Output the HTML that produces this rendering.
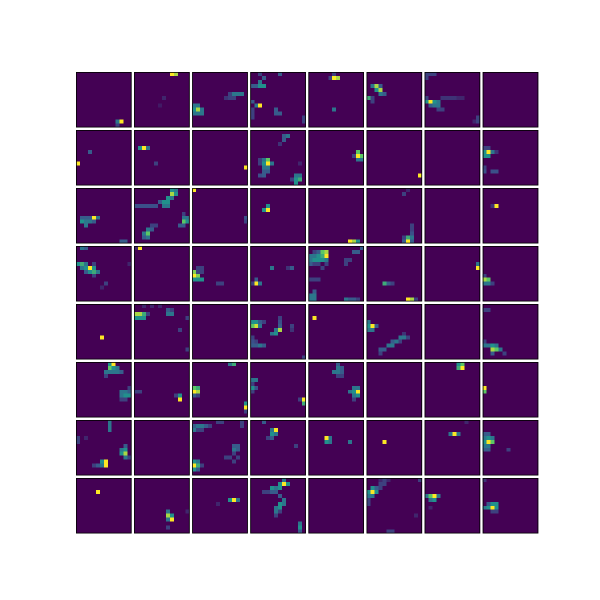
<!DOCTYPE html>
<html><head><meta charset="utf-8"><style>
html,body{margin:0;padding:0;background:#fff;width:600px;height:600px;overflow:hidden}
svg{display:block}
</style></head><body>
<svg id="chart" width="600" height="600" xmlns="http://www.w3.org/2000/svg"></svg>
<script>
// panel spots: each string is "row,col,value;..." for a 14x14 activation map (0..1)
const gridRows = 8;
const gridCols = 8;
const mapSize = 14;
const panelSpots = [
"12,11,1;12,10,.5;13,10,.3",
"0,9,1;0,10,.9;6,7,.2;8,6,.15",
"9,1,.9;8,0,.5;8,1,.5;9,0,.6;10,0,.5;10,1,.5;10,2,.5;9,2,.5;5,9,.3;5,10,.5;5,11,.5;5,12,.5;6,8,.25;6,9,.3;6,10,.3",
"0,2,.3;0,7,.4;3,0,.4;3,1,.4;3,2,.6;2,2,.5;3,3,.6;1,3,.4;8,2,1;7,0,.4;8,1,.5;9,0,.3;10,0,.3;11,0,.3;9,6,.4;10,6,.4;10,7,.4;11,13,.3;12,13,.3",
"1,6,1;1,7,.9;1,5,.3;0,6,.3;9,6,.5",
"3,2,.9;3,1,.5;4,2,.6;4,3,.9;5,3,.5;5,4,.4;6,0,.7;6,1,.3;7,1,.3;3,3,.4",
"0,0,.3;0,1,.3;0,2,.3;1,0,.3;7,1,1;7,0,.6;7,2,.6;7,3,.5;8,1,.4;8,2,.5;8,3,.5;9,3,.3;9,4,.3;6,0,.3;6,4,.25;6,5,.25;6,6,.25;6,7,.25;6,8,.2;6,9,.2;11,13,.3;12,12,.2;12,13,.3",
"",
"8,0,1;5,3,.4",
"4,2,1;4,1,.6;4,3,.5;8,5,.3",
"9,13,1",
"8,4,1;7,4,.8;8,3,.6;7,3,.5;9,3,.5;8,5,.5;9,4,.5;10,3,.4;10,4,.4;11,2,.35;11,3,.4;7,2,.3;8,2,.3;1,8,.4;1,9,.5;2,8,.4;3,7,.25;11,11,.5;11,12,.5;12,11,.6;12,12,.7;13,11,.6;12,10,.3;8,12,.2",
"6,12,1;6,13,.8;5,12,.8;7,12,.5;7,13,.5;6,11,.3",
"11,13,1",
"",
"5,1,1;5,0,.6;5,2,.5;6,0,.6;6,1,.6;4,0,.3;4,1,.3;5,3,.25;9,0,.3;10,0,.35;10,2,.35;10,3,.35",
"7,4,1;7,1,.4;7,2,.4;7,3,.4;8,1,.6;8,2,.5;8,3,.5;8,4,.4;7,5,.5;9,2,.5;13,11,.4;13,12,.4",
"4,0,.35;4,1,.35;4,2,.35;4,3,.35;4,4,.35;4,5,.35;1,9,.9;0,9,.6;0,10,.5;1,10,.6;2,8,.6;2,9,.5;3,7,.6;3,8,.6;4,7,.5;4,8,.5;3,6,.4;11,3,.8;10,3,.5;11,2,.5;10,4,.4;9,4,.3;9,5,.3;12,2,.4;12,3,.5;7,12,.5;7,13,.5;8,12,.8;8,13,.6;9,11,.4;9,12,.4;6,12,.3",
"0,0,1;7,13,.35;8,13,.3",
"5,4,1;5,3,.6;4,4,.6",
"13,10,1;13,11,.9;13,12,.6",
"13,10,1;12,10,.7;12,11,.5;13,9,.4;13,11,.4;11,11,.35;10,11,.3;9,11,.3;12,9,.3;1,9,.3;0,10,.2",
"",
"4,3,1;4,2,.25",
"0,1,.5;0,2,.4;4,0,.6;4,1,.7;4,2,.5;5,1,.5;5,2,.6;5,3,1;5,4,.6;6,2,.4;6,3,.6;6,4,.7;6,5,.5;7,4,.3;4,4,.3;9,7,.3;10,6,.2;4,13,.2",
"0,1,1;0,0,.2",
"6,0,.85;7,0,1;7,1,.85;8,0,.6;8,1,.6;8,2,.6;6,1,.3;5,1,.3;5,2,.3;6,2,.3;9,6,.3;9,7,.3",
"5,5,.5;5,9,.25;5,10,.4;8,1,.4;9,1,1;9,0,.3;9,2,.5",
"1,3,.8;1,4,.9;2,4,1;2,3,.7;2,2,.6;2,1,.5;3,0,.5;3,1,.6;3,2,.6;3,3,.6;3,4,.5;4,1,.3;4,2,.3;1,1,.3;1,2,.4;2,0,.5;4,0,.4;4,4,.3;5,3,.3;1,11,.4;1,12,.4;0,13,.4;3,9,.3;4,9,.3;3,10,.3;8,0,.3;8,1,.3;8,2,.3;11,1,.4;12,0,.5;12,1,.5;13,0,.5;13,1,.5;13,9,.5;13,10,.4;13,11,.4;13,12,.3",
"9,4,.7;9,5,.4;9,6,.3;13,10,1;13,11,.9;13,12,.3",
"4,13,.5;5,13,1",
"8,0,.9;8,1,.8;9,0,.5;9,1,.5;7,0,.3;9,2,.3",
"8,6,1",
"2,0,.9;2,1,.9;2,2,.7;3,0,.6;3,1,.6;3,2,.6;2,3,.3;2,8,.5;2,9,.5;1,8,.4;1,9,.3;0,2,.2;0,4,.2;0,6,.2;3,13,.3;6,11,.3;11,13,.3",
"",
"4,0,.6;4,1,.6;4,2,.4;4,3,.3;5,0,.8;5,1,.95;5,2,.5;3,7,.3;4,7,.35;5,7,.4;6,6,.5;6,7,.9;7,5,.5;7,6,.6;5,10,.3;6,10,.25;8,0,.3;9,0,.35;9,1,.3;10,0,.4;10,1,.4;10,2,.5;10,3,.4;13,13,.3",
"3,1,1",
"4,0,.5;5,1,1;5,0,.6;6,0,.5;6,1,.5;5,2,.4;8,8,.5;8,9,.5;9,6,.4;9,7,.5;10,5,.5;10,6,.5;11,4,.4;11,3,.4;12,3,.3;9,8,.3;8,10,.3;7,9,.25",
"",
"1,0,.3;1,1,.3;9,0,.3;10,0,.5;10,1,.5;10,2,.6;10,3,.5;11,2,.9;11,3,.8;11,4,.5;12,2,.4;12,5,.3",
"0,8,.6;0,9,1;1,8,.8;1,9,.6;2,7,.5;2,8,.5;2,9,.5;2,10,.5;2,11,.4;3,7,.3;1,10,.5;7,11,.5;7,12,.5;8,11,.5;8,12,.6;8,13,.6;7,13,.4;9,12,.3;9,11,.3;6,13,.3",
"7,0,.3;7,1,.3;8,10,.3;8,11,.6;9,11,1",
"0,9,.5;0,10,.7;6,0,.8;6,1,.7;7,0,1;7,1,.9;8,0,.4;8,1,.3;10,13,.6;11,13,1;12,13,.3",
"4,0,.5;4,1,.5;5,0,.3;6,0,.6;6,1,.35;7,0,.3;9,12,.3;9,13,1;10,13,.7",
"0,7,.4;1,7,.5;1,8,.4;2,7,.5;2,6,.5;2,8,.4;3,7,.3;3,8,.3;6,11,.5;6,12,.5;7,12,1;7,11,.6;7,10,.5;8,11,.5;8,12,.6;9,11,.3",
"",
"0,8,.6;0,9,.8;1,8,.7;1,9,1",
"6,0,1;7,0,.8",
"0,8,.5;1,8,.5;2,8,.5;4,0,.3;5,0,.3;4,2,.2;10,6,.6;10,7,1;11,6,.5;11,7,1;11,5,.4;11,4,.3;7,11,.5;7,12,.6;8,11,.6;8,12,.9;9,12,.5;6,12,.4;9,13,.3",
"",
"0,6,.3;0,7,.3;0,12,.3;1,0,.4;1,1,.5;1,2,.5;1,3,.4;1,4,.3;2,0,.5;2,1,.3;2,2,.3;1,12,.3;6,10,.4;6,11,.4;7,10,.5;7,11,.4;8,10,.3;9,9,.3;9,11,.3;10,10,.3;11,0,1;11,1,.7;10,0,.6;10,1,.5;12,0,.6;12,1,.4;11,2,.3;9,8,.3",
"0,3,.4;2,5,.5;2,6,1;3,5,.6;3,6,.5;4,4,.3;4,5,.4;6,11,.3",
"4,4,1;5,4,.6;5,5,.5;4,5,.5;5,10,.5",
"5,4,1",
"0,10,.2;3,6,.5;3,7,1;3,8,.5",
"3,0,.4;3,1,.4;4,0,.5;4,1,.6;4,2,.5;5,0,.6;5,1,1;5,2,.8;6,0,.5;6,1,.5;7,0,.4;7,1,.4;7,6,.3",
"3,5,1",
"8,8,.5;9,8,.9;9,9,.6;10,8,.5;10,9,1;8,13,.2;12,8,.3",
"5,9,.6;5,10,1;5,11,.5;6,6,.2",
"1,7,.6;1,8,1;1,9,.6;0,8,.5;2,5,.6;2,6,.5;2,7,.6;3,3,.3;3,4,.3;3,5,.4;3,6,.4;4,7,.4;5,8,.5;6,7,.6;6,8,.5;7,6,.5;7,7,.6;8,6,.5;8,7,.3;9,6,.3;11,12,.5;12,12,.6;13,12,.4",
"",
"2,1,.6;2,2,.4;2,3,.3;3,0,.6;3,1,1;3,2,.6;4,0,.5;4,1,.5;1,3,.3;1,4,.3;0,3,.2;0,4,.3;0,5,.2;5,0,.3;6,0,.3;9,12,.2;13,5,.3;13,6,.3;0,13,.3",
"4,0,.5;4,1,.8;4,2,1;4,3,.5;5,1,.5;5,2,.6;7,1,.2",
"0,0,.25;6,1,.4;6,2,.6;6,3,.6;7,0,.5;7,1,.6;7,2,1;7,3,.6;8,2,.3;8,3,.3"
];

const NS = "http://www.w3.org/2000/svg";
const svg = document.getElementById('chart');
const gridLeft = 76, gridTop = 72, pitchX = 58.1, pitchY = 58, panelW = 55.6, panelH = 55.5;
const stops = [[0,[68,1,84]],[0.25,[59,82,139]],[0.5,[33,145,140]],[0.75,[94,201,98]],[1,[253,231,37]]];
function viridis(v){
  v = Math.max(0, Math.min(1, v));
  v = Math.pow(v, 1.35);
  for (let i = 1; i < stops.length; i++) {
    if (v <= stops[i][0]) {
      const a = stops[i-1], b = stops[i], t = (v - a[0]) / (b[0] - a[0]);
      const c = a[1].map((x, k) => Math.round(x + (b[1][k] - x) * t));
      return 'rgb(' + c.join(',') + ')';
    }
  }
  return 'rgb(253,231,37)';
}
function panelX(c){ return gridLeft + c * pitchX; }
function panelY(r){ return gridTop + r * pitchY; }
function cellX(c, col){ return panelX(c) + col * panelW / mapSize; }
function cellY(r, row){ return panelY(r) + row * panelH / mapSize; }

for (let p = 0; p < gridRows * gridCols; p++) {
  const r = Math.floor(p / gridCols), c = p % gridCols;
  const g = document.createElementNS(NS, 'g');
  
  
  const bg = document.createElementNS(NS, 'rect');
  bg.setAttribute('x', panelX(c)); bg.setAttribute('y', panelY(r));
  bg.setAttribute('width', panelW); bg.setAttribute('height', panelH);
  bg.setAttribute('fill', viridis(0));
  
  
  g.appendChild(bg);
  const spec = panelSpots[p] || "";
  spec.split(';').filter(s => s).forEach(s => {
    const [row, col, v] = s.split(',').map(Number);
    const rc = document.createElementNS(NS, 'rect');
    rc.setAttribute('x', cellX(c, col)); rc.setAttribute('y', cellY(r, row));
    rc.setAttribute('width', panelW / mapSize); rc.setAttribute('height', panelH / mapSize);
    rc.setAttribute('fill', viridis(v));
    rc.setAttribute('shape-rendering', 'crispEdges');
    
    
    g.appendChild(rc);
  });
  const border = document.createElementNS(NS, 'rect');
  border.setAttribute('x', panelX(c) + 0.4); border.setAttribute('y', panelY(r) + 0.4);
  border.setAttribute('width', panelW - 0.8); border.setAttribute('height', panelH - 0.8);
  border.setAttribute('fill', 'none'); border.setAttribute('stroke', '#000'); border.setAttribute('stroke-width', '0.8');
  
  
  g.appendChild(border);
  svg.appendChild(g);
}
</script>
</body></html>
